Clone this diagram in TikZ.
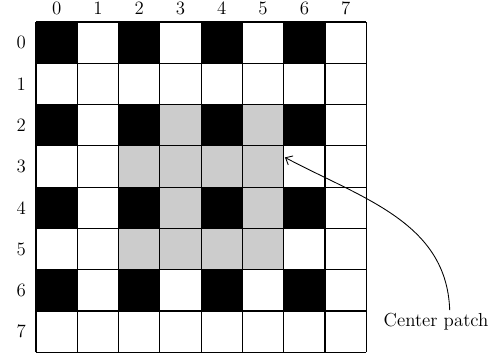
\documentclass[tikz,border=0pt]{standalone}
\usepackage{tikz}
\usetikzlibrary{arrows.meta}
\definecolor{board@gray}{RGB}{204,204,204}
\tikzset{
  board/.style={
    x=1cm, y=1cm,
    >={Straight Barb[length=4pt,width=7pt]},
    every node/.style={font=\fontsize{13}{15}\selectfont}
  },
  blackcell/.style={fill=black},
  graycell/.style={fill=board@gray},
  gridline/.style={draw=black, line width=0.8pt},
  idx/.style={inner sep=0pt},
  callout/.style={->, line width=0.6pt}
}
\begin{document}
\begin{tikzpicture}[board]
\useasboundingbox (-0.872,-0.145) rectangle (11.19,8.533);

% Black squares on even rows and columns
\foreach \r in {0,2,4,6}
  \foreach \c in {0,2,4,6}
    \fill[blackcell] (\c,{7-\r}) rectangle ++(1,1);

% Gray center patch (column/row)
\foreach \c/\r in {3/2,5/2,2/3,3/3,4/3,5/3,3/4,5/4,2/5,3/5,4/5,5/5}
  \fill[graycell] (\c,{7-\r}) rectangle ++(1,1);

% Grid
\draw[gridline] (0,0) grid (8,8);

% Column and row indices
\foreach \i in {0,...,7} {
  \node[idx] (col\i) at ({\i+0.5},8.33) {\i};
  \node[idx] (row\i) at (-0.36,{7.5-\i}) {\i};
}

% Label and arrow
\node (patch) at (9.69,0.73) {Center patch};
\coordinate (tip) at (6.03,4.72);
\draw[callout] ([xshift=0.33cm,yshift=-1pt]patch.north) to[out=92,in=-28] (tip);

\end{tikzpicture}
\end{document}
